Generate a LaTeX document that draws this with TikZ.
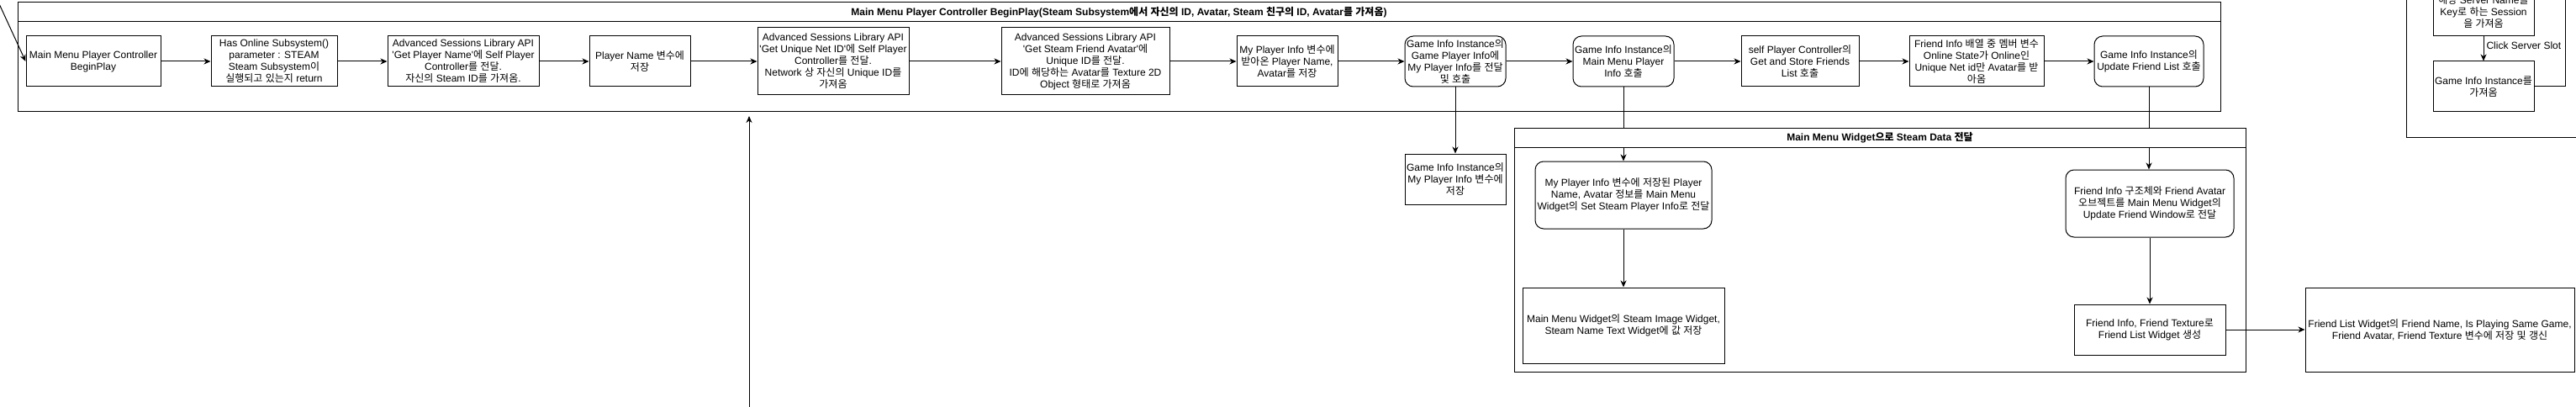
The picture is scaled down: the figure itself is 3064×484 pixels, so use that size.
\documentclass[tikz,border=0pt]{standalone}
\usepackage{fontspec}
\setmainfont{Liberation Sans}
\newfontfamily\krfont{Noto Sans CJK KR}
\usetikzlibrary{arrows.meta}
% automatic switch to the Korean font for Hangul syllables
\XeTeXinterchartokenstate=1
\newXeTeXintercharclass\krclass
\newcount\kc
\kc="AC00
\loop
  \XeTeXcharclass\kc=\krclass
  \ifnum\kc<"D7A3
  \advance\kc by 1
\repeat
\def\latinsaved{}
\XeTeXinterchartoks 0 \krclass = {\xdef\latinsaved{\the\font}\krfont}
\XeTeXinterchartoks 4095 \krclass = {\xdef\latinsaved{\the\font}\krfont}
\XeTeXinterchartoks \krclass 0 = {\latinsaved}
\XeTeXinterchartoks \krclass 4095 = {\latinsaved}
\newcommand\sq{\textquotesingle}
\begin{document}
\begin{tikzpicture}[x=1pt,y=-1pt,
  every node/.style={font=\fontsize{12}{14}\selectfont, align=center, inner sep=0pt, text=black},
  box/.style 2 args={draw, line width=1pt, minimum width=#1, minimum height=#2},
  rbox/.style 2 args={box={#1}{#2}, rounded corners=10pt},
  hdr/.style={draw, line width=1pt, fill=white, font=\fontsize{12}{14}\selectfont\bfseries},
  arr/.style={line width=1pt, -{Stealth[length=8pt,width=7pt,inset=2.5pt]}},
  ln/.style={line width=1pt}]
\useasboundingbox (0,0) rectangle (3064,484);
\fill[white] (0,0) rectangle (3064,484);
\clip (0,0) rectangle (3064,484);

% ---- top lane
\node[box={2620pt}{130pt}] (lane1) at (1331,68) {};
\node[hdr, minimum width=2620pt, minimum height=23pt] (lane1h) at (1331,14.5)
  {Main Menu Player Controller BeginPlay(Steam Subsystem에서 자신의 ID, Avatar, Steam 친구의 ID, Avatar를 가져옴)};

\node[box={160pt}{60pt}] (b1) at (111,73) {Main Menu Player Controller\\BeginPlay};
\node[box={150pt}{60pt}] (b2) at (326,73) {Has Online Subsystem()\\parameter : STEAM\\Steam Subsystem이\\실행되고 있는지 return};
\node[box={180pt}{60pt}] (b3) at (551,73) {Advanced Sessions Library API\\\sq Get Player Name\sq 에 Self Player\\Controller를 전달.\\자신의 Steam ID를 가져옴.};
\node[box={120pt}{60pt}] (b4) at (761,73) {Player Name 변수에\\저장};
\node[box={180pt}{80pt}] (b5) at (991,73) {Advanced Sessions Library API\\\sq Get Unique Net ID\sq 에 Self Player\\Controller를 전달.\\Network 상 자신의 Unique ID를\\가져옴};
\node[box={200pt}{80pt}] (b6) at (1291,73) {Advanced Sessions Library API\\\sq Get Steam Friend Avatar\sq 에\\Unique ID를 전달.\\ID에 해당하는 Avatar를 Texture 2D\\Object 형태로 가져옴};
\node[box={120pt}{60pt}] (b7) at (1531,73) {My Player Info 변수에\\받아온 Player Name,\\Avatar를 저장};
\node[rbox={120pt}{60pt}] (b8) at (1731,73) {Game Info Instance의\\Game Player Info에\\My Player Info를 전달\\및 호출};
\node[rbox={120pt}{60pt}] (b9) at (1931,73) {Game Info Instance의\\Main Menu Player\\Info 호출};
\node[box={140pt}{60pt}] (b10) at (2141,73) {self Player Controller의\\Get and Store Friends\\List 호출};
\node[box={160pt}{60pt}] (b11) at (2351,73) {Friend Info 배열 중 멤버 변수\\Online State가 Online인\\Unique Net id만 Avatar를 받\\아옴};
\node[rbox={130pt}{60pt}] (b12) at (2556,73) {Game Info Instance의\\Update Friend List 호출};

\node[box={120pt}{60pt}] (b13) at (1731,213) {Game Info Instance의\\My Player Info 변수에\\저장};

% ---- widget lane
\node[box={870pt}{290pt}] (lane2) at (2236,297) {};
\node[rbox={210pt}{80pt}] (b14) at (1931,232) {My Player Info 변수에 저장된 Player\\Name, Avatar 정보를 Main Menu\\Widget의 Set Steam Player Info로 전달};
\node[box={240pt}{90pt}] (b15) at (1931,387) {Main Menu Widget의 Steam Image Widget,\\Steam Name Text Widget에 값 저장};
\node[rbox={200pt}{80pt}] (b16) at (2557,242) {Friend Info 구조체와 Friend Avatar\\오브젝트를 Main Menu Widget의\\Update Friend Window로 전달};
\node[box={180pt}{60pt}] (b17) at (2557,392) {Friend Info, Friend Texture로\\Friend List Widget 생성};
\node[box={320pt}{100pt}] (b18) at (2902,392) {Friend List Widget의 Friend Name, Is Playing Same Game,\\Friend Avatar, Friend Texture 변수에 저장 및 갱신};

% ---- right frame (partly visible)
\node[box={238pt}{183pt}] (frame) at (2981,71.5) {};
\node[box={120pt}{58pt}] (b19) at (2954,14) {해당 Server Name을\\Key로 하는 Session\\을 가져옴};
\node[box={120pt}{60pt}] (b20) at (2954,103) {Game Info Instance를\\가져옴};

% ---- connectors
\draw[arr] (b1) -- (b2);
\draw[arr] (b2) -- (b3);
\draw[arr] (b3) -- (b4);
\draw[arr] (b4) -- (b5);
\draw[arr] (b5) -- (b6);
\draw[arr] (b6) -- (b7);
\draw[arr] (b7) -- (b8);
\draw[arr] (b8) -- (b9);
\draw[arr] (b9) -- (b10);
\draw[arr] (b10) -- (b11);
\draw[arr] (b11) -- (b12);
\draw[arr] (b8) -- (b13);
\draw[arr] (b9.south) -- (b14.north);
\draw[arr] (b12.south) -- (b16.north -| b12.south);
\draw[arr] (b14) -- (b15);
\draw[arr] (b16) -- (b17);
\draw[arr] (b17) -- (b18);
\draw[arr] (b19) -- node[pos=0.37, anchor=west, xshift=3pt] {Click Server Slot} (b20);
\coordinate (up) at (3051,-20);
\draw[ln] (b20.east) -| (up);
\coordinate (ts) at (-10,-15);
\draw[arr] (ts) -- (b1.west);
\coordinate (bs) at (891,495);
\coordinate (be) at (891,138);
\draw[arr] (bs) -- (be);

% widget lane header drawn last (covers connectors passing through it)
\node[hdr, minimum width=870pt, minimum height=23pt] (lane2h) at (2236,163.5) {Main Menu Widget으로 Steam Data 전달};
\end{tikzpicture}
\end{document}
